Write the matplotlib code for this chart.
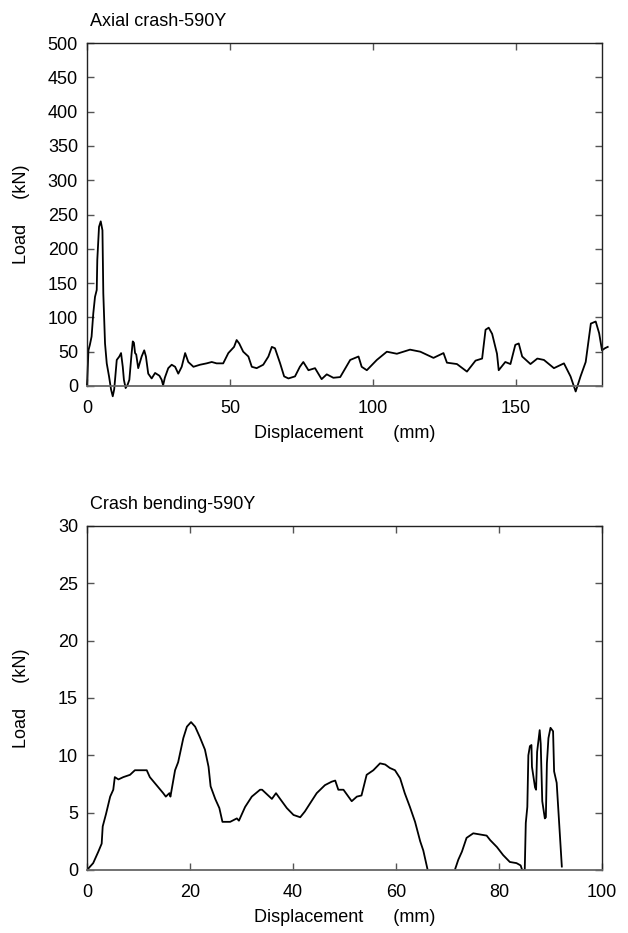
import matplotlib
matplotlib.use('Agg')
import matplotlib.pyplot as plt
import numpy as np

plt.rcParams['font.family'] = ['Liberation Sans', 'DejaVu Sans']
plt.rcParams['font.size'] = 13

# 轴向压溃 590Y：位移 (mm) - 载荷 (kN)
disp_axial = [0, 0.1, 0.5, 1.0, 1.6, 2.2, 2.8, 3.4, 3.6, 4.2, 4.8, 5.4, 5.7, 6.3, 6.9,
              7.7, 8.4, 9.0, 9.5, 9.8, 10.4, 11.3, 11.9, 12.5, 12.9, 13.5, 14.2, 14.8,
              15.6, 16.0, 16.4, 16.8, 17.2, 17.9, 19.1, 20.0, 20.6, 21.4, 22.6, 23.8,
              25.3, 26.1, 26.6, 27.2, 28.4, 29.6, 30.8, 31.9, 33.1, 34.3, 35.4, 37.2,
              39.5, 41.8, 43.6, 45.3, 47.6, 49.4, 51.4, 52.3, 53.2, 54.6, 56.4, 57.6,
              59.3, 61.6, 63.4, 64.6, 65.7, 67.5, 68.9, 70.4, 72.7, 74.4, 75.6, 77.4,
              79.7, 82.0, 83.8, 86.1, 88.5, 92.0, 94.9, 96.0, 97.8, 101.3, 104.8, 108.3,
              112.9, 116.5, 121.1, 124.6, 125.8, 129.3, 132.8, 135.8, 138.1, 139.3,
              140.4, 141.6, 143.3, 143.9, 146.2, 148.0, 149.7, 150.9, 152.1, 155.0,
              157.4, 159.7, 163.2, 166.7, 169.0, 170.8, 172.5, 174.3, 176.1, 177.8,
              179.0, 180.0, 181.0, 182.0]
load_axial = [2, 9, 52, 60, 72, 106, 130, 140, 184, 232, 240, 227, 135, 62, 33,
              14, -5, -15, -5, 9, 38, 43, 48, 28, 9, -3, 2, 9,
              48, 65, 63, 48, 46, 26, 43, 52, 43, 18, 11, 19,
              15, 9, 1, 12, 26, 31, 28, 18, 28, 48, 35, 28,
              31, 33, 35, 33, 33, 48, 57, 67, 62, 50, 43, 28,
              26, 31, 43, 57, 55, 33, 14, 11, 14, 28, 35, 23,
              26, 10, 17, 12, 13, 38, 43, 28, 23, 38, 50, 47,
              53, 50, 41, 48, 34, 32, 21, 37, 40, 82,
              85, 76, 47, 23, 35, 32, 60, 62, 43, 32,
              40, 38, 26, 33, 14, -8, 14, 35, 91, 94,
              77, 52, 55, 57]

# 弯曲压溃 590Y
disp_bend = [0, 0.1, 1.2, 2.2, 2.85, 3.05, 3.7, 4.5, 5.1, 5.4, 6.1, 7.05, 8.35, 9.3,
             10.6, 11.6, 12.2, 13.5, 14.8, 15.3, 16.0, 16.2, 17.1, 17.7, 18.7, 19.4,
             20.2, 21.0, 21.9, 22.9, 23.6, 24.0, 24.9, 25.7, 26.3, 27.8, 29.1, 29.5,
             30.7, 32.0, 33.6, 34.0, 35.9, 36.7, 37.5, 38.8, 40.1, 41.4, 42.3, 43.3,
             44.6, 46.2, 47.5, 48.2, 48.8, 49.8, 51.4, 52.4, 53.3, 54.3, 55.6, 56.9,
             57.9, 58.8, 59.8, 60.8, 61.7, 62.7, 63.7, 64.7, 65.3, 66.1, 68.0,
             71.5, 72.1, 72.8, 73.7, 75.0, 76.3, 77.6, 78.3, 79.6, 80.8, 82.1, 83.4,
             84.2, 84.5, 85.0, 85.2, 85.5, 85.7, 86.0, 86.3, 86.4, 87.0, 87.2, 87.4,
             87.9, 88.1, 88.4, 88.9, 89.1, 89.3, 89.6, 90.0, 90.5, 90.7, 91.2, 92.2]
load_bend = [0, 0.05, 0.6, 1.6, 2.3, 3.8, 4.9, 6.4, 7.0, 8.1, 7.9, 8.1, 8.3, 8.7,
             8.7, 8.7, 8.1, 7.4, 6.7, 6.4, 6.7, 6.4, 8.7, 9.4, 11.5, 12.5,
             12.9, 12.5, 11.6, 10.5, 9.0, 7.3, 6.2, 5.4, 4.2, 4.2, 4.5, 4.3,
             5.5, 6.4, 7.0, 7.0, 6.2, 6.7, 6.2, 5.4, 4.8, 4.6, 5.1, 5.8,
             6.7, 7.4, 7.7, 7.8, 7.0, 7.0, 6.0, 6.4, 6.5, 8.3, 8.7, 9.3,
             9.2, 8.9, 8.7, 8.0, 6.7, 5.5, 4.2, 2.5, 1.7, 0.1, np.nan,
             0.1, 0.9, 1.6, 2.8, 3.2, 3.1, 3.0, 2.6, 2.0, 1.3, 0.7, 0.6,
             0.4, 0.0, 0.0, 4.1, 5.5, 10.0, 10.8, 10.9, 9.0, 7.2, 7.0, 10.3,
             12.2, 11.0, 6.0, 4.5, 4.6, 9.3, 11.5, 12.4, 12.1, 8.6, 7.6, 0.3]

W, H = 628, 933
fig = plt.figure(figsize=(W / 100, H / 100), dpi=100)


def make_axes(top, bottom):
    # 像素位置转换为图形坐标
    left, right = 87, 602
    return fig.add_axes([left / W, 1 - bottom / H, (right - left) / W, (bottom - top) / H])


def style(ax, xlim, ylim, xticks, yticks, title):
    ax.set_xlim(xlim)
    ax.set_ylim(ylim)
    ax.set_xticks(xticks)
    ax.set_yticks(yticks)
    ax.tick_params(direction='in', length=5, width=1, color='#555555',
                   top=True, right=True, labelsize=13)
    ax.tick_params(axis='x', pad=10)
    ax.tick_params(axis='y', pad=6.5)
    for s in ax.spines.values():
        s.set_linewidth(1.0)
        s.set_color('#222222')
    ax.spines['bottom'].set_color('#666666')
    ax.spines['bottom'].set_linewidth(1.3)
    ax.set_xlabel('Displacement      (mm)', fontsize=13, labelpad=6)
    ax.set_ylabel('Load     (kN)', fontsize=13)
    # y 轴标签固定位置，两张图对齐
    ax.yaxis.set_label_coords(-0.111, 0.5)
    ax.text(0.005, 1.062, title, transform=ax.transAxes, fontsize=13,
            ha='left', va='center')


ax1 = make_axes(43, 386)
ax1.plot(disp_axial, load_axial, color='black', linewidth=1.3, clip_on=False)
style(ax1, (0, 180), (0, 500), [0, 50, 100, 150], np.arange(0, 501, 50), 'Axial crash-590Y')

ax2 = make_axes(526, 870)
ax2.plot(disp_bend, load_bend, color='black', linewidth=1.3)
style(ax2, (0, 100), (0, 30), [0, 20, 40, 60, 80, 100], np.arange(0, 31, 5), 'Crash bending-590Y')

fig.savefig('out.png', dpi=100)
